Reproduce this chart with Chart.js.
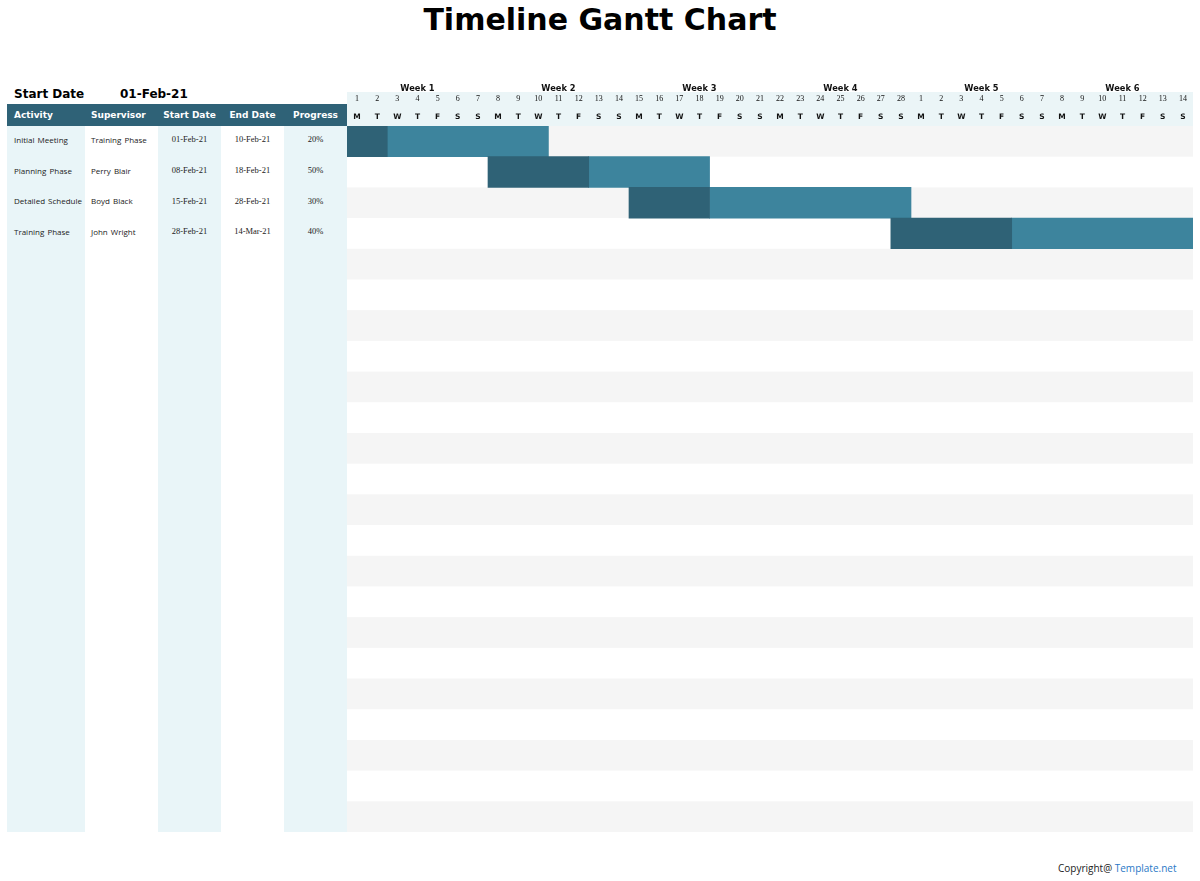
<!DOCTYPE html>
<html>
<head>
<meta charset="utf-8">
<title>Timeline Gantt Chart</title>
<script src="https://cdn.jsdelivr.net/npm/chart.js@4.4.1/dist/chart.umd.min.js"></script>
<style>
    body {
        margin: 0;
        width: 1200px;
        height: 881px;
        position: relative;
        overflow: hidden;
        background: #ffffff;
        font-family: "Open Sans", sans-serif;
    }
    h1 {
        position: absolute;
        left: 0;
        top: 0;
        width: 1200px;
        margin: 0;
        text-align: center;
        font: bold 30px "DejaVu Sans", sans-serif;
        line-height: 40px;
        color: #000;
    }
    .startLabel {
        position: absolute;
        top: 87px;
        font: bold 12px "DejaVu Sans", sans-serif;
        color: #000;
    }
    #ganttCanvas {
        position: absolute;
        left: 347px;
        top: 80px;
    }
    .cell {
        position: absolute;
        white-space: nowrap;
        box-sizing: border-box;
        display: flex;
        align-items: center;
    }
    .copyright {
        position: absolute;
        left: 1058px;
        top: 861px;
        font: 10px "Open Sans", sans-serif;
        color: #222;
    }
    .copyright span { color: #2a78c6; }
</style>
</head>
<body>
<h1>Timeline Gantt Chart</h1>
<div class="startLabel" style="left:14px">Start Date</div>
<div class="startLabel" style="left:120px" id="startValue"></div>
<div id="table"></div>
<canvas id="ganttCanvas" width="846" height="752"></canvas>
<div class="copyright">Copyright@ <span>Template.net</span></div>

<script>
// Project data
const projectStart = '01-Feb-21';
const activities = ['Initial Meeting', 'Planning Phase', 'Detailed Schedule', 'Training Phase'];
const supervisors = ['Training Phase', 'Perry Blair', 'Boyd Black', 'John Wright'];
const startDates = ['01-Feb-21', '08-Feb-21', '15-Feb-21', '28-Feb-21'];
const endDates = ['10-Feb-21', '18-Feb-21', '28-Feb-21', '14-Mar-21'];
const progress = [20, 50, 30, 40];

// Timeline header labels
const weekLabels = ['Week 1', 'Week 2', 'Week 3', 'Week 4', 'Week 5', 'Week 6'];
const dayNumbers = ['1', '2', '3', '4', '5', '6', '7', '8', '9', '10', '11', '12', '13', '14',
    '15', '16', '17', '18', '19', '20', '21', '22', '23', '24', '25', '26', '27', '28',
    '1', '2', '3', '4', '5', '6', '7', '8', '9', '10', '11', '12', '13', '14'];
const weekdayLetters = ['M', 'T', 'W', 'T', 'F', 'S', 'S', 'M', 'T', 'W', 'T', 'F', 'S', 'S',
    'M', 'T', 'W', 'T', 'F', 'S', 'S', 'M', 'T', 'W', 'T', 'F', 'S', 'S',
    'M', 'T', 'W', 'T', 'F', 'S', 'S', 'M', 'T', 'W', 'T', 'F', 'S', 'S'];

const totalRows = 23;

const colors = {
    done: '#2f6276',
    remaining: '#3d849d',
    header: '#2f6277',
    lightColumn: '#e9f5f8',
    stripe: '#f5f5f5',
    band: '#ebf5f7'
};

// Turn '01-Feb-21' into a day offset from the project start
const monthIndex = { Jan: 0, Feb: 1, Mar: 2, Apr: 3, May: 4, Jun: 5, Jul: 6, Aug: 7, Sep: 8, Oct: 9, Nov: 10, Dec: 11 };
function parseDate(str) {
    const parts = str.split('-');
    return Date.UTC(2000 + parseInt(parts[2], 10), monthIndex[parts[1]], parseInt(parts[0], 10));
}
function dayOffset(str) {
    return Math.round((parseDate(str) - parseDate(projectStart)) / 86400000);
}

const rowIds = Array.from({ length: totalRows }, (_, i) => 'row' + (i + 1));
const doneRanges = [];
const remainingRanges = [];
activities.forEach((a, i) => {
    const start = dayOffset(startDates[i]);
    const end = dayOffset(endDates[i]) + 1;
    const doneDays = Math.floor((end - start) * progress[i] / 100);
    doneRanges.push([start, start + doneDays]);
    remainingRanges.push([start + doneDays, end]);
});

document.getElementById('startValue').textContent = projectStart;

// Background stripes and header band
const backgroundPlugin = {
    id: 'ganttBackground',
    beforeDraw(chart) {
        const { ctx, chartArea, scales } = chart;
        const rowH = (chartArea.bottom - chartArea.top) / totalRows;
        ctx.save();
        ctx.fillStyle = colors.band;
        ctx.fillRect(chartArea.left, scales.xNum.top, chartArea.right - chartArea.left, scales.xDow.bottom - scales.xNum.top);
        ctx.fillStyle = colors.stripe;
        rowIds.forEach((r, i) => {
            if (i % 2 === 0) {
                const yc = scales.y.getPixelForValue(i);
                ctx.fillRect(chartArea.left, yc - rowH / 2, chartArea.right - chartArea.left, rowH);
            }
        });
        ctx.restore();
    }
};

function headerAxis(labels, weight, height, font, padding) {
    return {
        type: 'category',
        axis: 'x',
        position: 'top',
        labels: labels,
        offset: true,
        weight: weight,
        grid: { display: false, drawTicks: false },
        border: { display: false },
        ticks: {
            autoSkip: false,
            maxRotation: 0,
            minRotation: 0,
            padding: padding,
            color: '#111',
            font: font
        },
        afterFit: function (scale) {
            scale.height = height;
        }
    };
}

const ctx = document.getElementById('ganttCanvas');
window.ganttChart = new Chart(ctx, {
    type: 'bar',
    data: {
        labels: rowIds,
        datasets: [{
            label: 'Completed',
            data: doneRanges,
            backgroundColor: colors.done,
            borderWidth: 0,
            grouped: false,
            barPercentage: 1,
            categoryPercentage: 1
        }, {
            label: 'Remaining',
            data: remainingRanges,
            backgroundColor: colors.remaining,
            borderWidth: 0,
            grouped: false,
            barPercentage: 1,
            categoryPercentage: 1
        }]
    },
    options: {
        indexAxis: 'y',
        responsive: false,
        animation: false,
        layout: { padding: 0 },
        plugins: {
            legend: { display: false },
            tooltip: { enabled: false }
        },
        scales: {
            x: { type: 'linear', min: 0, max: dayNumbers.length, display: false },
            y: { type: 'category', display: false, offset: true },
            xDow: headerAxis(weekdayLetters, 0, 22, { family: 'DejaVu Sans', weight: 'bold', size: 7.5 }, 4),
            xNum: headerAxis(dayNumbers, 1, 12, { family: 'Liberation Serif', size: 8 }, 0),
            xWeek: headerAxis(weekLabels, 2, 12, { family: 'DejaVu Sans', weight: 'bold', size: 8.3 }, -2)
        }
    },
    plugins: [backgroundPlugin]
});

// Left-hand table, lined up with the chart rows
const canvasLeft = 347;
const canvasTop = 80;
const columns = [
    { title: 'Activity', values: activities, x: 7, w: 78, bg: colors.lightColumn, align: 'left', pad: 7, font: '8px "Open Sans"' },
    { title: 'Supervisor', values: supervisors, x: 85, w: 73, bg: '#ffffff', align: 'left', pad: 6, font: '8px "Open Sans"' },
    { title: 'Start Date', values: startDates, x: 158, w: 63, bg: colors.lightColumn, align: 'center', pad: 0, font: '8.5px "Liberation Serif"' },
    { title: 'End Date', values: endDates, x: 221, w: 63, bg: '#ffffff', align: 'center', pad: 0, font: '8.5px "Liberation Serif"' },
    { title: 'Progress', values: progress.map(p => p + '%'), x: 284, w: 63, bg: colors.lightColumn, align: 'center', pad: 0, font: '8.5px "Liberation Serif"' }
];

function buildTable(chart) {
    const table = document.getElementById('table');
    const area = chart.chartArea;
    const dow = chart.scales.xDow;
    const yScale = chart.scales.y;
    const rowH = (area.bottom - area.top) / totalRows;
    const headTop = canvasTop + dow.top;
    const headH = dow.bottom - dow.top;
    const bottom = canvasTop + area.bottom;

    columns.forEach(col => {
        const bg = document.createElement('div');
        bg.className = 'cell';
        bg.style.cssText = `left:${col.x}px;top:${headTop}px;width:${col.w}px;height:${bottom - headTop}px;background:${col.bg};`;
        table.appendChild(bg);
    });

    const head = document.createElement('div');
    head.className = 'cell';
    head.style.cssText = `left:7px;top:${headTop}px;width:${canvasLeft - 7}px;height:${headH}px;background:${colors.header};`;
    table.appendChild(head);

    columns.forEach(col => {
        const h = document.createElement('div');
        h.className = 'cell';
        h.textContent = col.title;
        h.style.cssText = `left:${col.x}px;top:${headTop}px;width:${col.w}px;height:${headH}px;` +
            `justify-content:${col.align === 'left' ? 'flex-start' : 'center'};padding-left:${col.pad}px;` +
            `color:#fff;font:bold 9px "DejaVu Sans";`;
        table.appendChild(h);

        col.values.forEach((v, i) => {
            const c = document.createElement('div');
            c.className = 'cell';
            c.textContent = v;
            const yc = canvasTop + yScale.getPixelForValue(i);
            c.style.cssText = `left:${col.x}px;top:${yc - rowH / 2 - 2}px;width:${col.w}px;height:${rowH}px;` +
                `justify-content:${col.align === 'left' ? 'flex-start' : 'center'};padding-left:${col.pad}px;` +
                `color:#222;font:${col.font};word-spacing:1px;`;
            table.appendChild(c);
        });
    });
}

buildTable(window.ganttChart);
</script>
</body>
</html>
